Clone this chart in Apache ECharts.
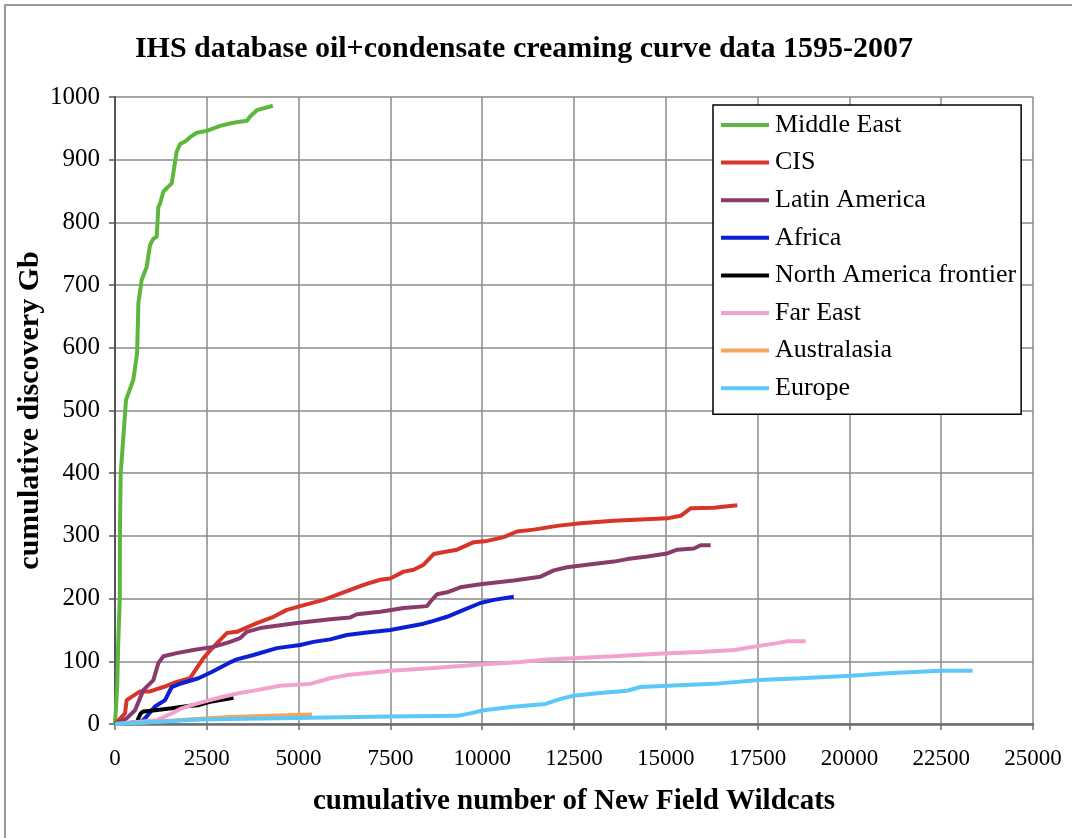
<!DOCTYPE html>
<html>
<head>
<meta charset="utf-8">
<script src="https://cdn.jsdelivr.net/npm/echarts@6/dist/echarts.min.js"></script>
<style>
  html, body { margin: 0; padding: 0; background: #fff; }
  #chart { width: 1072px; height: 838px; }
</style>
</head>
<body>
<div id="chart"></div>
<script>
// Cumulative discovery (Gb) against cumulative number of new field wildcats, by region
const xTicks = [0, 2500, 5000, 7500, 10000, 12500, 15000, 17500, 20000, 22500, 25000];
const yTicks = [0, 100, 200, 300, 400, 500, 600, 700, 800, 900, 1000];

const middleEast = [[0,0],[60,60],[90,134],[130,200],[136,315],[155,400],[182,421],[300,517],[499,549],[600,590],[625,640],[636,671],[726,708],[863,729],[954,764],[1045,774],[1135,777],[1181,825],[1227,830],[1317,849],[1453,857],[1544,862],[1681,913],[1772,925],[1908,929],[2044,936],[2227,943],[2500,946],[2862,954],[3225,959],[3590,962],[3680,969],[3862,979],[4299,986]];
const cis = [[0,0],[272,17],[318,38],[681,52],[954,52],[1317,59],[1681,67],[2044,73],[2408,105],[2680,123],[3045,145],[3317,147],[3862,161],[4316,171],[4680,182],[5044,188],[5680,198],[6134,208],[6770,222],[7224,230],[7497,232],[7860,243],[8133,246],[8405,254],[8678,271],[9042,275],[9315,278],[9769,290],[10133,292],[10587,298],[10950,307],[11405,310],[12041,316],[12676,320],[13585,324],[15039,328],[15402,332],[15675,344],[16311,345],[16948,349]];
const latinAmerica = [[0,0],[318,9],[545,22],[772,54],[1045,70],[1181,97],[1317,108],[1681,113],[2135,118],[2680,123],[3135,131],[3408,137],[3590,147],[3953,153],[4953,161],[5861,167],[6406,170],[6588,175],[7224,179],[7860,185],[8496,188],[8587,195],[8769,207],[9042,210],[9405,218],[9951,223],[10859,229],[11587,235],[11950,245],[12313,250],[12858,254],[13585,259],[13949,263],[14494,267],[15039,272],[15311,278],[15766,280],[15948,285],[16221,285]];
const africa = [[0,0],[681,2],[818,9],[1090,28],[1363,38],[1545,59],[1817,65],[2272,73],[2635,83],[3089,97],[3317,103],[3771,110],[4408,121],[5044,126],[5406,131],[5861,135],[6315,142],[6861,146],[7497,150],[8042,156],[8405,160],[8587,163],[9042,171],[9496,182],[9951,193],[10314,198],[10860,203]];
const naFrontier = [[0,0],[600,3],[636,9],[700,17],[772,20],[1090,22],[1545,25],[2044,29],[2272,30],[2635,36],[3226,42]];
const farEast = [[0,0],[1135,6],[1363,12],[1545,17],[1817,25],[2090,30],[2453,36],[2908,43],[3362,49],[3862,54],[4498,61],[5316,64],[5861,73],[6315,78],[7497,85],[8587,89],[9951,95],[11041,99],[11768,103],[13585,108],[15039,113],[15948,115],[16857,118],[17584,125],[18038,129],[18311,132],[18810,132]];
const australasia = [[0,0],[1000,3],[2000,7],[3135,11],[4200,13],[5362,15]];
const europe = [[0,0],[2317,7],[5316,10],[7497,12],[9315,13],[9678,17],[10042,22],[10770,27],[11722,32],[12131,40],[12495,45],[13131,49],[13949,53],[14312,59],[15039,61],[16311,64],[17538,70],[18675,73],[20038,77],[21041,81],[22494,85],[23353,85]];

const regionNames = ['Middle East', 'CIS', 'Latin America', 'Africa', 'North America frontier', 'Far East', 'Australasia', 'Europe'];
const regionData = [middleEast, cis, latinAmerica, africa, naFrontier, farEast, australasia, europe];
const regionColors = ['#5cb83c', '#d7342a', '#8b3a6c', '#0a20d2', '#000000', '#f2a2cd', '#f3a65e', '#5bc8f7'];

const serif = '"Liberation Serif", "Times New Roman", serif';

const chart = echarts.init(document.getElementById('chart'), null, { renderer: 'canvas' });

chart.setOption({
  backgroundColor: '#ffffff',
  animation: false,
  title: {
    text: 'IHS database oil+condensate creaming curve data 1595-2007',
    left: 519,
    textAlign: 'center',
    top: 29,
    textStyle: { fontFamily: serif, fontWeight: 'bold', fontSize: 30, color: '#000' }
  },
  graphic: [{
    type: 'rect',
    shape: { x: 5, y: 5, width: 1200, height: 1000 },
    style: { fill: 'none', stroke: '#9a9a9a', lineWidth: 2 },
    silent: true
  }],
  legend: {
    orient: 'vertical',
    left: 713,
    top: 105,
    padding: [7, 5, 13, 8],
    itemGap: 11.6,
    itemWidth: 48,
    itemHeight: 4,
    icon: 'rect',
    borderColor: '#000',
    borderWidth: 1.5,
    backgroundColor: '#fff',
    textStyle: { fontFamily: serif, fontSize: 26, color: '#000', lineHeight: 26, padding: [0, 0, 0, 1] },
    data: regionNames
  },
  grid: { left: 115, right: 39, top: 97, bottom: 114, containLabel: false, outerBoundsMode: 'none' },
  xAxis: {
    type: 'value',
    min: xTicks[0],
    max: xTicks[xTicks.length - 1],
    interval: xTicks[1] - xTicks[0],
    name: 'cumulative number of New Field Wildcats',
    nameLocation: 'middle',
    nameGap: 63,
    nameMoveOverlap: false,
    nameTextStyle: { fontFamily: serif, fontWeight: 'bold', fontSize: 29, color: '#000' },
    axisLine: { lineStyle: { color: '#6e6e6e', width: 2.5 } },
    axisTick: { show: true, length: 6, lineStyle: { color: '#6e6e6e', width: 1.5 } },
    axisLabel: { fontFamily: serif, fontSize: 23, color: '#000', margin: 23, formatter: v => String(v) },
    splitLine: { show: true, lineStyle: { color: '#8a8a8a', width: 1.5 } }
  },
  yAxis: {
    type: 'value',
    min: yTicks[0],
    max: yTicks[yTicks.length - 1],
    interval: yTicks[1] - yTicks[0],
    name: 'cumulative discovery Gb',
    nameLocation: 'middle',
    nameGap: 70,
    nameRotate: 90,
    nameMoveOverlap: false,
    nameTextStyle: { fontFamily: serif, fontWeight: 'bold', fontSize: 30, color: '#000' },
    axisLine: { show: true, lineStyle: { color: '#555', width: 2 } },
    axisTick: { show: true, length: 6, lineStyle: { color: '#555', width: 1.5 } },
    axisLabel: { fontFamily: serif, fontSize: 25, color: '#000', margin: 15, formatter: v => String(v) },
    splitLine: { show: true, lineStyle: { color: '#8a8a8a', width: 1.5 } }
  },
  series: regionNames.map((name, i) => ({
    name: name,
    type: 'line',
    data: regionData[i],
    showSymbol: false,
    symbol: 'none',
    smooth: false,
    color: regionColors[i],
    lineStyle: { color: regionColors[i], width: 4 },
    emphasis: { disabled: true }
  }))
});
</script>
</body>
</html>
